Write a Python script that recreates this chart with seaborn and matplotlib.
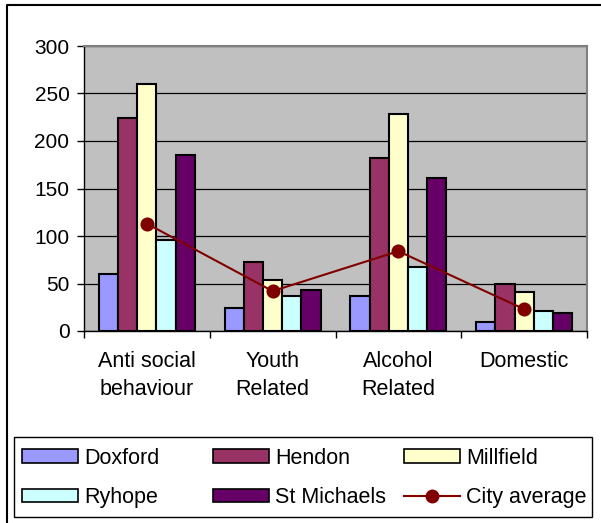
import matplotlib
matplotlib.use("Agg")
import matplotlib.pyplot as plt
from matplotlib.patches import Patch, Rectangle
from matplotlib.lines import Line2D
import seaborn as sns
import pandas as pd

categories = ["Anti social\nbehaviour", "Youth\nRelated", "Alcohol\nRelated", "Domestic"]
districts = ["Doxford", "Hendon", "Millfield", "Ryhope", "St Michaels"]
doxford = [60, 24, 37, 10]
hendon = [224, 73, 182, 50]
millfield = [260, 54, 228, 41]
ryhope = [96, 37, 67, 21]
st_michaels = [185, 43, 161, 19]
city_average = [113, 42, 84, 23]
y_ticks = [0, 50, 100, 150, 200, 250, 300]

colors = ["#9999FF", "#993366", "#FFFFCC", "#CCFFFF", "#660066"]
line_color = "#800000"

series = [doxford, hendon, millfield, ryhope, st_michaels]
rows = []
for name, vals in zip(districts, series):
    for cat, v in zip(categories, vals):
        rows.append({"category": cat, "district": name, "value": v})
df = pd.DataFrame(rows)

plt.rcParams["font.family"] = ["Liberation Sans", "DejaVu Sans"]

W, H = 601, 523
fig = plt.figure(figsize=(W / 100, H / 100), dpi=100)
ax = fig.add_axes([84 / W, 1 - 331 / H, (587 - 84) / W, (331 - 46) / H])
ax.set_facecolor("#C0C0C0")

sns.barplot(data=df, x="category", y="value", hue="district", order=categories,
            hue_order=districts, palette=colors, saturation=1, width=0.763,
            gap=0, errorbar=None, edgecolor="black", linewidth=1.5,
            legend=False, ax=ax, zorder=2)
sns.pointplot(x=categories, y=city_average, order=categories, color=line_color,
              markers="o", markersize=9, linewidth=1.5, errorbar=None, ax=ax)
for line in ax.lines:
    line.set_zorder(4)

ax.set_xlim(-0.5, 3.5)
ax.set_ylim(0, 300)
ax.set_yticks(y_ticks)
ax.set_yticklabels([str(t) for t in y_ticks], fontsize=15)
ax.set_xticks(range(len(categories)))
ax.set_xticklabels(categories, fontsize=15.5, linespacing=1.4)
ax.set_xticks([-0.5, 0.5, 1.5, 2.5, 3.5], minor=True)
ax.tick_params(axis="x", which="major", length=0, pad=14.5)
ax.tick_params(axis="x", which="minor", length=5, width=1, color="black", direction="out")
ax.tick_params(axis="y", length=5, width=1, color="black", direction="out", pad=5.5)
ax.set_xlabel("")
ax.set_ylabel("")

ax.yaxis.grid(True, color="black", linewidth=0.9)
ax.set_axisbelow(True)
for s in ["left", "bottom"]:
    ax.spines[s].set_color("black")
    ax.spines[s].set_linewidth(1)
for s in ["top", "right"]:
    ax.spines[s].set_color("#808080")
    ax.spines[s].set_linewidth(1.5)

# legend
handles = [Patch(facecolor=c, edgecolor="black", linewidth=1.2) for c in colors]
line_handle = Line2D([], [], color=line_color, marker="o", markersize=9, linewidth=1.5)
cols = [([handles[0], handles[3]], ["Doxford", "Ryhope"], 22),
        ([handles[1], handles[4]], ["Hendon", "St Michaels"], 213),
        ([handles[2], line_handle], ["Millfield", "City average"], 404)]
for hs, labels, x0 in cols:
    fig.legend(handles=hs, labels=labels, loc="center left",
               bbox_to_anchor=(x0 / W, 1 - 478 / H), frameon=False,
               borderpad=0, borderaxespad=0, fontsize=15.5,
               handlelength=2.6, handleheight=0.6, handletextpad=0.3,
               labelspacing=0.85)

fig.add_artist(Rectangle((14 / W, 1 - 517 / H), (592 - 14) / W, (517 - 437) / H,
                         transform=fig.transFigure, fill=False,
                         edgecolor="black", linewidth=1))
fig.add_artist(Line2D([6.5 / W, 6.5 / W, 1], [0, 1 - 5 / H, 1 - 5 / H],
                      transform=fig.transFigure, color="black", linewidth=1.5))

fig.savefig("out.png", dpi=100, facecolor="white")
